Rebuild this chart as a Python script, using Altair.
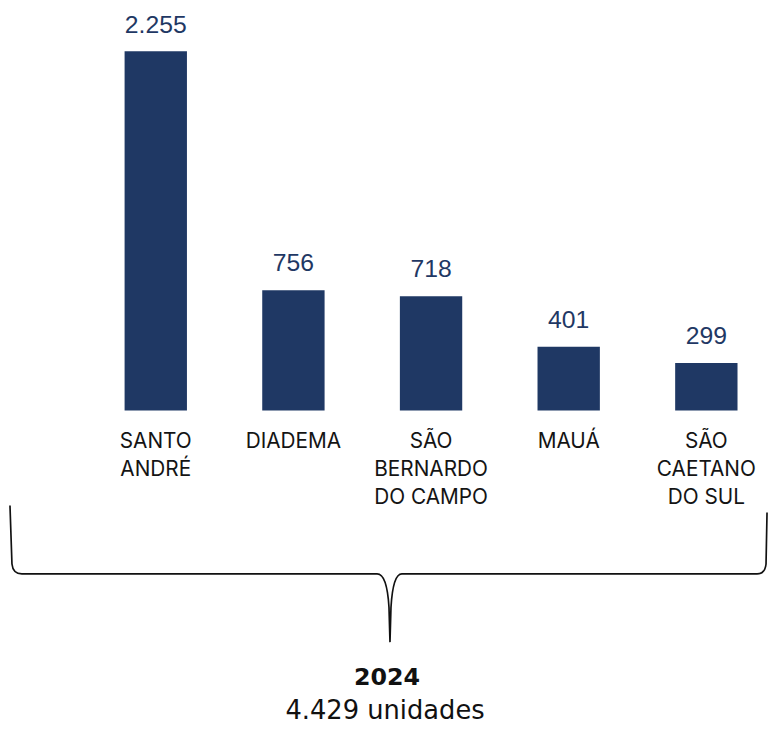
import altair as alt
import pandas as pd

# --- data ---
cities = ["SANTO\nANDRÉ", "DIADEMA", "SÃO\nBERNARDO\nDO CAMPO", "MAUÁ", "SÃO\nCAETANO\nDO SUL"]
units = [2255, 756, 718, 401, 299]
year = "2024"
unit_word = "unidades"

def fmt(v):
    return f"{v:,}".replace(",", ".")

df = pd.DataFrame({"city": cities, "units": units})
df["label"] = [fmt(v) for v in units]
total_df = pd.DataFrame({"year": [year], "total": [f"{fmt(sum(units))} {unit_word}"]})

NAVY = "#1f3864"
W, H = 675, 363
PAD_L, PAD_T = 90, 40

x = alt.X("city:N", sort=cities, axis=None,
          scale=alt.Scale(paddingInner=0.547, paddingOuter=0.2))
y = alt.Y("units:Q", axis=None, scale=alt.Scale(domain=[0, max(units)], nice=False, zero=True))

base = alt.Chart(df)

bars = base.mark_bar(color=NAVY).encode(x=x, y=y)

values = base.mark_text(
    font="Liberation Sans", fontSize=25, color=NAVY, baseline="alphabetic", dy=-19
).encode(x=x, y=y, text="label:N")

cats = base.mark_text(
    font="Inter", fontSize=21, color="#141414", baseline="alphabetic",
    lineBreak="\n", lineHeight=28
).encode(x=x, y=alt.value(449 - 8 - PAD_T), text="city:N")

# curly brace drawn as a custom symbol path (unit coordinates, scaled by sqrt(size)/2)
r = 384.0
pts = [
    ("M", -384, -69), ("L", -382, -10), ("Q", -381, 0, -372, 0), ("L", -13, 0),
    ("Q", -3, 0, -1, 34), ("L", 0, 69), ("L", 1, 34), ("Q", 3, 0, 12, 0),
    ("L", 371, 0), ("Q", 379, 0, 380, -10), ("L", 381, -62),
]
path = " ".join(
    p[0] + " " + " ".join(f"{c / r:.4f}" for c in p[1:]) for p in pts
)

tdata = alt.Chart(total_df)
brace = tdata.mark_point(
    shape=path, size=(2 * r) ** 2, filled=False, stroke="#111111",
    strokeWidth=1.7, opacity=1
).encode(x=alt.value(394 - 8 - PAD_L), y=alt.value(576 - 8 - PAD_T))

year_txt = tdata.mark_text(
    font="DejaVu Sans", fontSize=24, fontWeight="bold", color="#111111",
    baseline="alphabetic"
).encode(x=alt.value(391 - 8 - PAD_L), y=alt.value(688 - 8 - PAD_T), text="year:N")

total_txt = tdata.mark_text(
    font="DejaVu Sans", fontSize=26, color="#111111", baseline="alphabetic"
).encode(x=alt.value(389 - 8 - PAD_L), y=alt.value(723 - 8 - PAD_T), text="total:N")

chart = alt.layer(bars, values, cats, brace, year_txt, total_txt).properties(
    width=W, height=H,
    autosize=alt.AutoSizeParams(type="none"),
    padding={"left": PAD_L, "top": PAD_T, "right": 4, "bottom": 319},
    background="white",
).configure_view(stroke=None)

chart.save("out.html", embed_options={"renderer": "svg", "actions": False})
